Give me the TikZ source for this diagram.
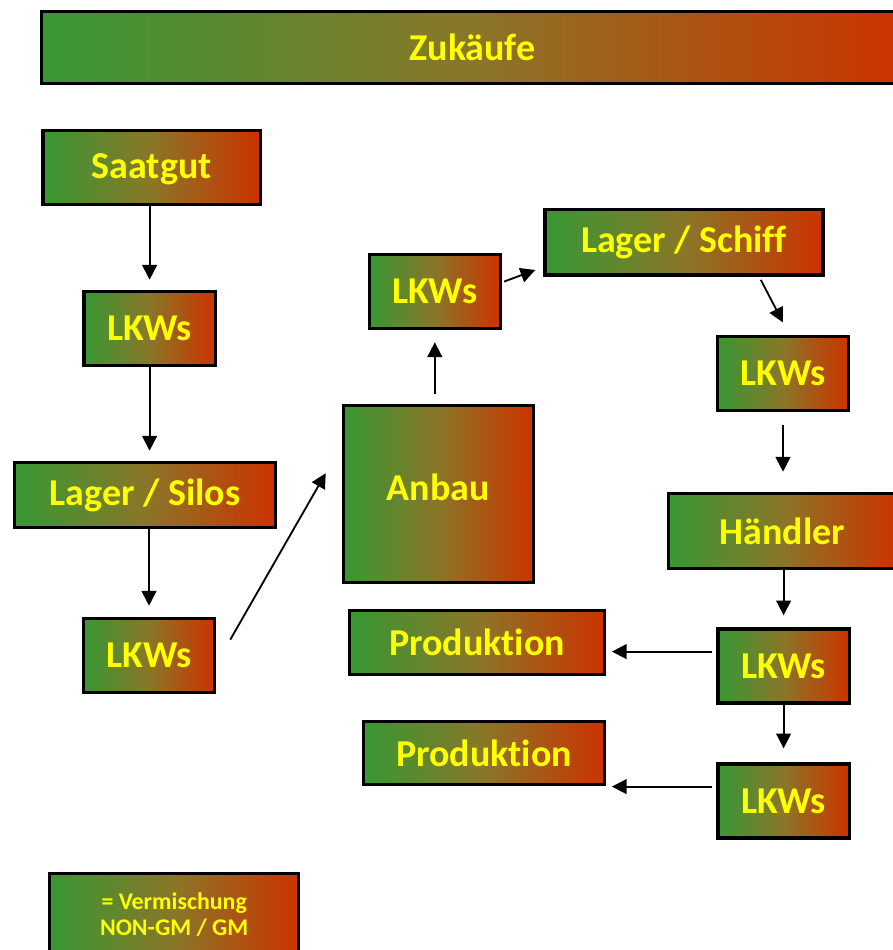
\documentclass[tikz,border=0pt]{standalone}
\usepackage{fontspec}
\setmainfont{Carlito}[Ligatures=CommonOff]
\usetikzlibrary{arrows.meta,positioning,calc}
\definecolor{gmgruen}{RGB}{55,152,52}
\definecolor{gmoliv}{RGB}{138,118,40}
\definecolor{gmrot}{RGB}{204,51,0}
\definecolor{schrift}{RGB}{255,255,0}

\begin{document}
\begin{tikzpicture}[>={Triangle[length=10.5pt,width=10.5pt]},
    box/.style={draw=black, line width=2.4pt, left color=gmgruen, right color=gmrot,
      middle color=gmoliv, text=schrift, inner sep=0pt,
      font=\fontsize{27}{32}\selectfont\bfseries},
    lkw/.style={box, minimum width=3.28cm, minimum height=1.85cm},
    pfeil/.style={->, line width=1.3pt}]
    \useasboundingbox (0,0) rectangle (22.325,23.75);
    % Kopfzeile
    \node[box, minimum width=21.55cm, minimum height=1.8cm] (zukaeufe) at (11.81,22.56) {Zukäufe};
    % --- linke Spalte ---
    \node[box, minimum width=5.43cm, minimum height=1.85cm, text depth=0.1cm] (saatgut) at (3.79,19.56) {Saatgut};
    \node[lkw] (lkwA) at (3.74,15.54) {LKWs};
    \node[box, minimum width=6.53cm, minimum height=1.63cm] (silos) at (3.63,11.375) {Lager / Silos};
    \node[lkw] (lkwB) at (3.725,7.36) {LKWs};
    % --- Mitte ---
    \node[box, minimum width=4.75cm, minimum height=4.43cm, text depth=0.35cm] (anbau) at (10.96,11.4) {Anbau};
    \node[lkw] (lkwC) at (10.87,16.46) {LKWs};
    \node[box, minimum width=6.95cm, minimum height=1.63cm] (schiff) at (17.1,17.69) {Lager / Schiff};
    \node[box, minimum width=6.38cm, minimum height=1.6cm] (prodA) at (11.925,7.69) {Produktion};
    \node[box, minimum width=6.03cm, minimum height=1.58cm] (prodB) at (12.1,4.925) {Produktion};
    % --- rechte Spalte ---
    \node[lkw] (lkwD) at (19.575,14.41) {LKWs};
    \node[box, minimum width=5.7cm, minimum height=1.88cm] (haendler) at (19.56,10.475) {Händler};
    \node[lkw] (lkwE) at (19.59,7.1) {LKWs};
    \node[lkw] (lkwF) at (19.59,3.725) {LKWs};
    % Legende
    \node[box, minimum width=6.23cm, minimum height=2.08cm, align=center,
      font=\fontsize{17}{18.5}\selectfont\bfseries] (legende) at (4.355,0.875)
      {= Vermischung\\NON-GM / GM};
    % connectors
    \draw[pfeil, shorten >=0.25cm] (saatgut.south -| lkwA.north) -- (lkwA.north);
    \draw[pfeil, shorten >=0.25cm] (lkwA.south) -- (lkwA.south |- silos.north);
    \draw[pfeil, shorten >=0.28cm] (silos.south -| lkwB.north) -- (lkwB.north);
    \draw[pfeil] ([xshift=0.35cm,yshift=0.4cm]lkwB.east) -- ([xshift=-0.4cm,yshift=0.52cm]anbau.west);
    \draw[pfeil, shorten <=0.25cm, shorten >=0.3cm] (anbau.north -| lkwC.south) -- (lkwC.south);
    \draw[pfeil] ([xshift=0.05cm,yshift=0.25cm]lkwC.east) -- ([xshift=-0.2cm,yshift=-0.69cm]schiff.west);
    \draw[pfeil] ([xshift=1.92cm,yshift=-0.08cm]schiff.south) -- ([yshift=0.31cm]lkwD.north);
    \draw[pfeil, shorten <=0.33cm, shorten >=0.5cm] (lkwD.south) -- (lkwD.south |- haendler.north);
    \draw[pfeil, shorten >=0.3cm] (haendler.south -| lkwE.north) -- (lkwE.north);
    \draw[pfeil, shorten >=0.35cm] (lkwE.south) -- (lkwF.north);
    \draw[pfeil, shorten <=0.12cm, shorten >=0.14cm] ([yshift=0.36cm]lkwE.west) -- ([yshift=0.36cm]lkwE.west -| prodA.east);
    \draw[pfeil, shorten <=0.12cm, shorten >=0.14cm] ([yshift=0.36cm]lkwF.west) -- ([yshift=0.36cm]lkwF.west -| prodB.east);
\end{tikzpicture}
\end{document}
